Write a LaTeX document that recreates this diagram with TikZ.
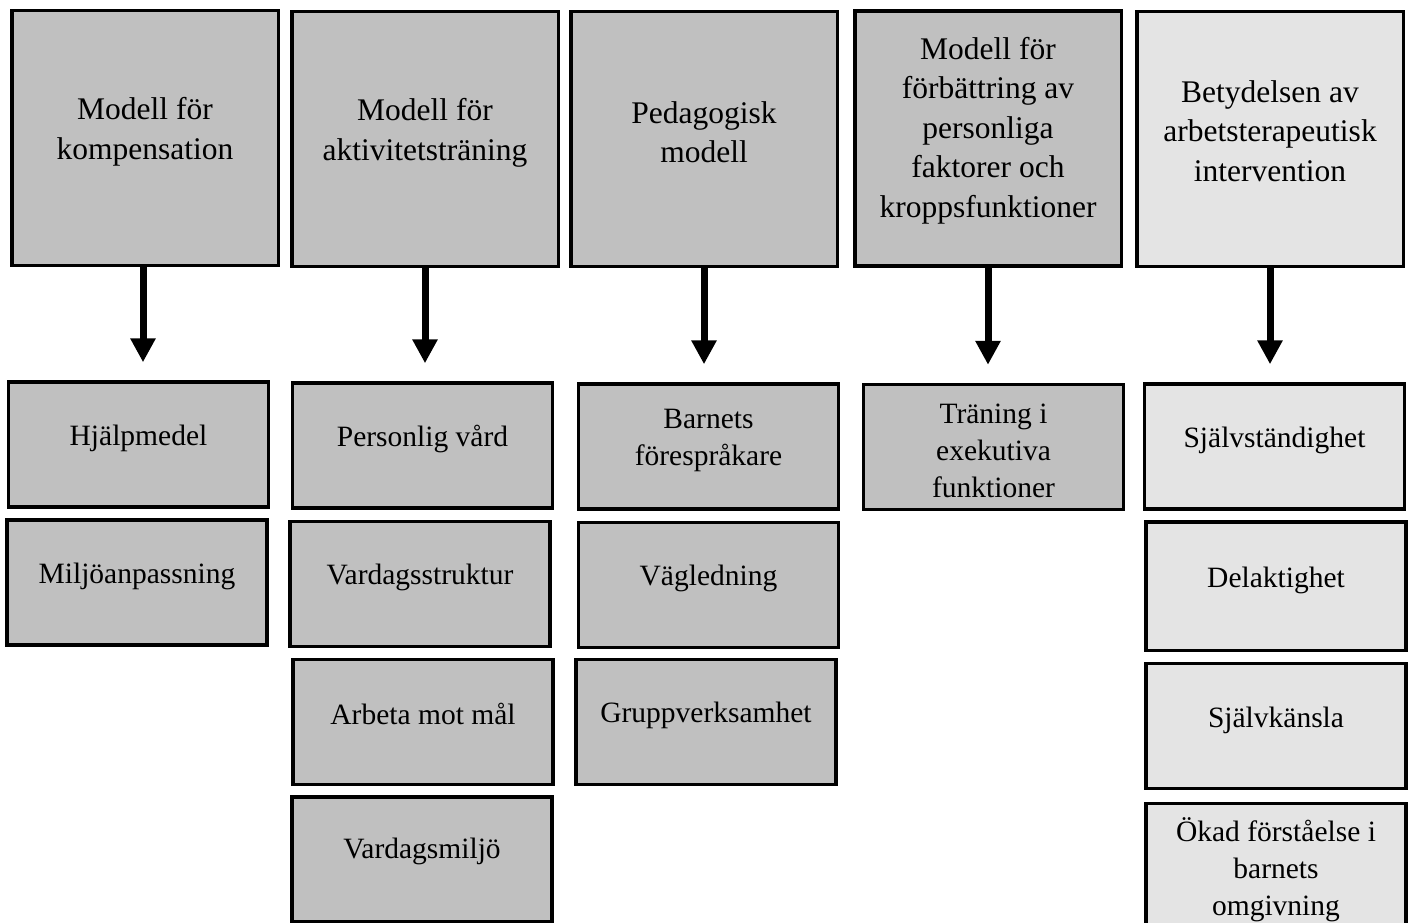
\documentclass[tikz,border=0pt]{standalone}
\usepackage{fontspec}
\setmainfont{Liberation Serif}
\usetikzlibrary{arrows.meta}
\definecolor{boxgray}{HTML}{C0C0C0}
\definecolor{boxlight}{HTML}{E4E4E4}

\begin{document}
\begin{tikzpicture}[x=1pt,y=-1pt,
    modelbox/.style={draw=black,line width=3.5pt,fill=boxgray,minimum width=266.5pt,minimum height=254.5pt,inner sep=0pt},
    itembox/.style={draw=black,line width=3.5pt,fill=boxgray,minimum width=260pt,minimum height=125pt,inner sep=0pt},
    modeltext/.style={align=center,font=\fontsize{31.5}{39.5}\selectfont,inner sep=0pt},
    itemtext/.style={align=center,font=\fontsize{29.5}{37}\selectfont,inner sep=0pt},
    pil/.style={line width=7pt,-{Triangle[width=24pt,length=24pt]},shorten >=18pt}]
    \useasboundingbox (0,0) rectangle (1411,923);

    % Models (top row)
    \node[modelbox,label={[modeltext,yshift=6pt]center:{Modell för\\kompensation}}] (komp) at (145,138) {};
    \node[modelbox,label={[modeltext,yshift=6pt]center:{Modell för\\aktivitetsträning}}] (akt) at (425,139) {};
    \node[modelbox,label={[modeltext,yshift=7pt]center:{Pedagogisk\\modell}}] (ped) at (704,139) {};
    \node[modelbox,label={[modeltext,yshift=8pt]center:{Modell för\\förbättring av\\personliga\\faktorer och\\kroppsfunktioner}}] (forb) at (988,138.5) {};
    \node[modelbox,fill=boxlight,label={[modeltext,yshift=8pt]center:{Betydelsen av\\arbetsterapeutisk\\intervention}}] (bet) at (1270,139) {};

    % Kompensation
    \node[itembox,label={[itemtext,yshift=6pt]center:Hjälpmedel}] (hjalp) at (138.5,444.5) {};
    \node[itembox,label={[itemtext,yshift=6pt]center:Miljöanpassning}] (miljo) at (137,582.5) {};

    % Aktivitetsträning
    \node[itembox,label={[itemtext,yshift=7pt]center:Personlig vård}] (vard) at (422.5,445.5) {};
    \node[itembox,label={[itemtext,yshift=7pt]center:Vardagsstruktur}] (struktur) at (420,584) {};
    \node[itembox,label={[itemtext,yshift=8pt]center:Arbeta mot mål}] (mal) at (423,722) {};
    \node[itembox,label={[itemtext,yshift=8pt]center:Vardagsmiljö}] (vmiljo) at (422,859.5) {};

    % Pedagogisk modell
    \node[itembox,label={[itemtext,yshift=6pt]center:{Barnets\\förespråkare}}] (barn) at (708.5,446.5) {};
    \node[itembox,label={[itemtext,yshift=7pt]center:Vägledning}] (vagl) at (708.5,585) {};
    \node[itembox,label={[itemtext,yshift=7pt]center:Gruppverksamhet}] (grupp) at (706,722) {};

    % Personliga faktorer
    \node[itembox,label={[itemtext,yshift=-4pt]center:{Träning i\\exekutiva\\funktioner}}] (exek) at (993.5,447) {};

    % Betydelsen
    \node[itembox,fill=boxlight,label={[itemtext,yshift=6pt]center:Självständighet}] (sjalv) at (1274.5,446.5) {};
    \node[itembox,fill=boxlight,minimum height=128.5pt,label={[itemtext,yshift=6pt]center:Delaktighet}] (delak) at (1276,586) {};
    \node[itembox,fill=boxlight,label={[itemtext,yshift=6pt]center:Självkänsla}] (kansla) at (1276,726) {};
    \node[itembox,fill=boxlight,label={[itemtext,yshift=-4pt]center:{Ökad förståelse i\\barnets\\omgivning}}] (okad) at (1276,866) {};

    % Arrows
    \draw[pil] ([xshift=-2pt]komp.south) -- ([xshift=-2pt]komp.south |- hjalp.north);
    \draw[pil] (akt.south) -- (akt.south |- vard.north);
    \draw[pil] (ped.south) -- (ped.south |- barn.north);
    \draw[pil] (forb.south) -- (forb.south |- exek.north);
    \draw[pil] (bet.south) -- (bet.south |- sjalv.north);
\end{tikzpicture}
\end{document}
